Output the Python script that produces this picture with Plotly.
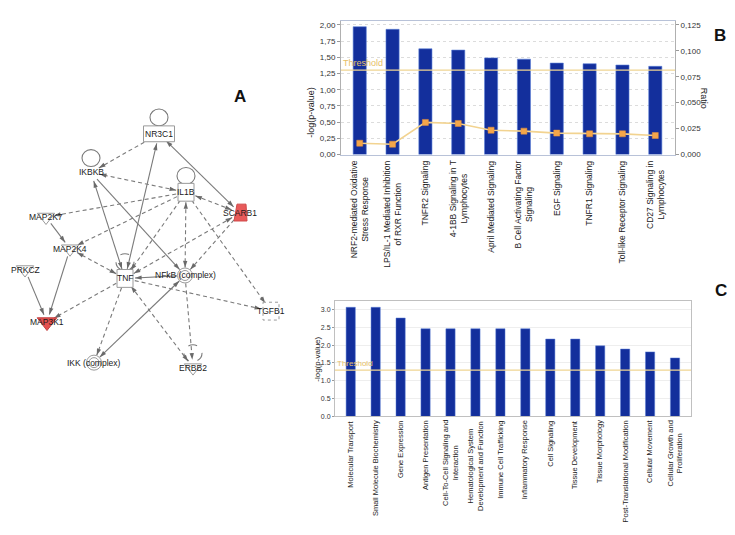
import math
import plotly.graph_objects as go

# ---------------- Panel B data ----------------
b_pathways = [
    "NRF2-mediated Oxidative<br>Stress Response",
    "LPS/IL-1 Mediated Inhibition<br>of RXR Function",
    "TNFR2 Signaling",
    "4-1BB Signaling in T<br>Lymphocytes",
    "April Mediated Signaling",
    "B Cell Activating Factor<br>Signaling",
    "EGF Signaling",
    "TNFR1 Signaling",
    "Toll-like Receptor Signaling",
    "CD27 Signaling in<br>Lymphocytes",
]
b_logp = [1.97, 1.93, 1.63, 1.61, 1.49, 1.47, 1.41, 1.40, 1.38, 1.36]
b_ratio = [0.011, 0.010, 0.031, 0.030, 0.0235, 0.0226, 0.0207, 0.0200, 0.0200, 0.0184]
b_left_tickvals = [0, 0.25, 0.5, 0.75, 1.0, 1.25, 1.5, 1.75, 2.0]
b_left_ticktext = ["0,00", "0,25", "0,50", "0,75", "1,00", "1,25", "1,50", "1,75", "2,00"]
b_right_tickvals = [0, 0.025, 0.05, 0.075, 0.1, 0.125]
b_right_ticktext = ["0,000", "0,025", "0,050", "0,075", "0,100", "0,125"]
threshold = 1.3

# ---------------- Panel C data ----------------
c_functions = [
    "Molecular Transport",
    "Small Molecule Biochemistry",
    "Gene Expression",
    "Antigen Presentation",
    "Cell-To-Cell Signaling and<br>Interaction",
    "Hematological System<br>Development and Function",
    "Immune Cell Trafficking",
    "Inflammatory Response",
    "Cell Signaling",
    "Tissue Development",
    "Tissue Morphology",
    "Post-Translational Modification",
    "Cellular Movement",
    "Cellular Growth and<br>Proliferation",
]
c_logp = [3.06, 3.06, 2.76, 2.46, 2.46, 2.46, 2.46, 2.46, 2.17, 2.17, 1.98, 1.89, 1.81, 1.64]
c_tickvals = [0, 0.5, 1.0, 1.5, 2.0, 2.5, 3.0]
c_ticktext = ["0.0", "0.5", "1.0", "1.5", "2.0", "2.5", "3.0"]

# ---------------- Panel A network data ----------------
node_names = ["NR3C1", "IKBKB", "IL1B", "SCARB1", "MAP2K7", "MAP2K4", "PRKCZ",
              "TNF", "NFkB (complex)", "TGFB1", "MAP3K1", "IKK (complex)", "ERBB2"]
node_x = [151, 83, 178, 232, 38, 62, 17, 117, 177, 263, 39, 86, 185]
node_y = [127, 166, 186, 207, 211, 243, 264, 273, 270, 306, 317, 358, 363]
node_kind = ["rect", "plain", "rect", "receptor", "kinase", "kinase", "kinase",
             "rect", "complex", "rect_dash", "kinase_red", "complex", "kinase"]
node_loop = {"NR3C1": "solid", "IKBKB": "solid", "IL1B": "solid", "TNF": "dash", "ERBB2": "dash"}

edges = [
    ("NR3C1", "IKBKB", "dash", False),
    ("NR3C1", "SCARB1", "solid", True),
    ("TNF", "NR3C1", "solid", True),
    ("IL1B", "IKBKB", "dash", True),
    ("TNF", "IKBKB", "solid", True),
    ("IKBKB", "NFkB (complex)", "solid", False),
    ("IL1B", "MAP2K7", "dash", False),
    ("IL1B", "MAP2K4", "dash", False),
    ("IL1B", "TNF", "dash", False),
    ("IL1B", "NFkB (complex)", "dash", True),
    ("IL1B", "TGFB1", "dash", False),
    ("SCARB1", "IL1B", "dash", True),
    ("SCARB1", "TNF", "dash", True),
    ("SCARB1", "NFkB (complex)", "dash", False),
    ("MAP2K7", "MAP2K4", "solid", False),
    ("MAP2K4", "MAP3K1", "solid", False),
    ("PRKCZ", "MAP3K1", "solid", False),
    ("TNF", "MAP2K4", "dash", True),
    ("TNF", "MAP3K1", "dash", False),
    ("NFkB (complex)", "TNF", "solid", False),
    ("TNF", "TGFB1", "dash", False),
    ("TNF", "IKK (complex)", "dash", False),
    ("TNF", "ERBB2", "dash", True),
    ("NFkB (complex)", "IKK (complex)", "solid", True),
    ("NFkB (complex)", "ERBB2", "dash", False),
]

W, H = 735, 535
FONT = "Liberation Sans, Arial, sans-serif"
BAR = "#132f9c"
GRAY = "#7a7a7a"


def px(x):
    return x / W


def py(y):
    return 1 - y / H


fig = go.Figure()

# ---------- Panel B ----------
fig.add_trace(go.Bar(x=b_pathways, y=b_logp, width=0.4, marker=dict(color=BAR, line=dict(color="#5b7fd6", width=0.6)),
                     xaxis="x", yaxis="y", showlegend=False))
fig.add_trace(go.Scatter(x=b_pathways, y=b_ratio, mode="lines+markers", xaxis="x", yaxis="y2",
                         line=dict(color="#f2d390", width=1.6),
                         marker=dict(symbol="square", size=6, color="#f4a64a", line=dict(color="#e8903a", width=0.5)),
                         showlegend=False))

# ---------- Panel C ----------
fig.add_trace(go.Bar(x=c_functions, y=c_logp, width=0.37, marker=dict(color=BAR, line=dict(color="#5b7fd6", width=0.5)),
                     xaxis="x3", yaxis="y3", showlegend=False))

# ---------- Panel A (network) ----------
pos = {n: (x, y) for n, x, y in zip(node_names, node_x, node_y)}
kind = dict(zip(node_names, node_kind))
clip = {"rect": 10, "plain": 9, "receptor": 9, "kinase": 8, "kinase_red": 8, "complex": 8, "rect_dash": 10}

seg = {"solid": ([], []), "dash": ([], [])}
ax_, ay_, aang = [], [], []
for s, t, style, both in edges:
    x0, y0 = pos[s]
    x1, y1 = pos[t]
    dx, dy = x1 - x0, y1 - y0
    L = math.hypot(dx, dy)
    ux, uy = dx / L, dy / L
    sx, sy = x0 + ux * clip[kind[s]], y0 + uy * clip[kind[s]]
    ex, ey = x1 - ux * clip[kind[t]], y1 - uy * clip[kind[t]]
    seg[style][0].extend([sx, ex, None])
    seg[style][1].extend([sy, ey, None])
    ax_.append(ex); ay_.append(ey); aang.append(math.degrees(math.atan2(ux, -uy)))
    if both:
        ax_.append(sx); ay_.append(sy); aang.append(math.degrees(math.atan2(-ux, uy)))

fig.add_trace(go.Scatter(x=seg["solid"][0], y=seg["solid"][1], mode="lines", xaxis="x4", yaxis="y4",
                         line=dict(color=GRAY, width=1.1), hoverinfo="skip", showlegend=False))
fig.add_trace(go.Scatter(x=seg["dash"][0], y=seg["dash"][1], mode="lines", xaxis="x4", yaxis="y4",
                         line=dict(color=GRAY, width=1.1, dash="4px,3px"), hoverinfo="skip", showlegend=False))
fig.add_trace(go.Scatter(x=ax_, y=ay_, mode="markers", xaxis="x4", yaxis="y4",
                         marker=dict(symbol="arrow", size=7, angle=aang, color="#6a6a6a", line=dict(width=0)),
                         hoverinfo="skip", showlegend=False))

# node markers (kinases: inverted triangles, complexes: double circles)
tri_x = [pos[n][0] for n in node_names if kind[n] == "kinase"]
tri_y = [pos[n][1] for n in node_names if kind[n] == "kinase"]
fig.add_trace(go.Scatter(x=tri_x, y=tri_y, mode="markers", xaxis="x4", yaxis="y4",
                         marker=dict(symbol="triangle-down", size=15, color="white", line=dict(color="#9a9a9a", width=1)),
                         hoverinfo="skip", showlegend=False))
red_x = [pos[n][0] for n in node_names if kind[n] == "kinase_red"]
red_y = [pos[n][1] for n in node_names if kind[n] == "kinase_red"]
fig.add_trace(go.Scatter(x=red_x, y=red_y, mode="markers", xaxis="x4", yaxis="y4",
                         marker=dict(symbol="triangle-down", size=17, color="#e4504f", line=dict(color="#c04040", width=1)),
                         hoverinfo="skip", showlegend=False))
cx_ = [pos[n][0] for n in node_names if kind[n] == "complex"]
cy_ = [pos[n][1] for n in node_names if kind[n] == "complex"]
for sz in (15, 10):
    fig.add_trace(go.Scatter(x=cx_, y=cy_, mode="markers", xaxis="x4", yaxis="y4",
                             marker=dict(symbol="circle", size=sz, color="white", line=dict(color="#9a9a9a", width=1)),
                             hoverinfo="skip", showlegend=False))

shapes = []
annotations = []
for n in node_names:
    x, y = pos[n]
    k = kind[n]
    if k in ("rect", "rect_dash"):
        w = 16 if n != "NR3C1" else 31
        h = 18 if n != "NR3C1" else 16
        shapes.append(dict(type="rect", xref="x4", yref="y4", x0=x - w / 2, x1=x + w / 2, y0=y - h / 2, y1=y + h / 2,
                           fillcolor="white", line=dict(color="#9a9a9a", width=1,
                                                        dash="dot" if k == "rect_dash" else "solid"), layer="above"))
    if k == "receptor":
        shapes.append(dict(type="path", xref="x4", yref="y4",
                           path=f"M{x-6},{y+8} L{x+7},{y+8} L{x+6},{y-9} L{x-3},{y-9} Z",
                           fillcolor="#e85a5a", line=dict(color="#d04848", width=1), layer="above"))
    if n in node_loop:
        top = y - (9 if k in ("rect", "rect_dash") else 7)
        shapes.append(dict(type="circle", xref="x4", yref="y4", x0=x - 9, x1=x + 9, y0=top - 16, y1=top + 1,
                           line=dict(color=GRAY, width=1.1, dash="dash" if node_loop[n] == "dash" else "solid"),
                           fillcolor="rgba(0,0,0,0)", layer="below"))
    annotations.append(dict(x=x, y=y, xref="x4", yref="y4", text=n, showarrow=False,
                            font=dict(family=FONT, size=8.5, color="#1a1a1a")))

# threshold lines
shapes.append(dict(type="line", xref="x domain", yref="y", x0=0, x1=1, y0=threshold, y1=threshold,
                   line=dict(color="#efd592", width=1.2)))
shapes.append(dict(type="line", xref="x3 domain", yref="y3", x0=0, x1=1, y0=threshold, y1=threshold,
                   line=dict(color="#efd592", width=1.2)))
annotations.append(dict(x=0, y=threshold, xref="x domain", yref="y", text="Threshold", showarrow=False,
                        xanchor="left", yanchor="bottom", font=dict(family=FONT, size=9, color="#e6c068")))
annotations.append(dict(x=0, y=threshold, xref="x3 domain", yref="y3", text="Threshold", showarrow=False,
                        xanchor="left", yanchor="bottom", font=dict(family=FONT, size=8, color="#e6c068")))

# category labels (rotated, centred lines)
for c in b_pathways:
    annotations.append(dict(x=c, y=0, xref="x", yref="y domain", yshift=-4, text=c, showarrow=False,
                            textangle=-90, xanchor="center", yanchor="top", align="center",
                            font=dict(family=FONT, size=8.5, color="#222")))
for c in c_functions:
    annotations.append(dict(x=c, y=0, xref="x3", yref="y3 domain", yshift=-2, text=c, showarrow=False,
                            textangle=-90, xanchor="center", yanchor="top", align="center",
                            font=dict(family=FONT, size=7.5, color="#222")))

# axis titles and panel letters
annotations += [
    dict(x=px(303), y=py(78), xref="paper", yref="paper", text="-log(p-value)", textangle=-90, showarrow=False,
         font=dict(family=FONT, size=9, color="#222")),
    dict(x=px(703), y=py(78), xref="paper", yref="paper", text="Ratio", textangle=90, showarrow=False,
         font=dict(family=FONT, size=9, color="#222")),
    dict(x=px(310), y=py(355), xref="paper", yref="paper", text="-log(p-value)", textangle=-90, showarrow=False,
         font=dict(family=FONT, size=8, color="#222")),
    dict(x=px(224), y=py(78), xref="paper", yref="paper", text="<b>A</b>", showarrow=False,
         font=dict(family=FONT, size=17, color="#111")),
    dict(x=px(720), y=py(16), xref="paper", yref="paper", text="<b>B</b>", showarrow=False,
         font=dict(family=FONT, size=17, color="#111")),
    dict(x=px(721), y=py(285), xref="paper", yref="paper", text="<b>C</b>", showarrow=False,
         font=dict(family=FONT, size=17, color="#111")),
]

tickfont = dict(family=FONT, size=8, color="#333")
fig.update_layout(
    width=W, height=H, margin=dict(l=0, r=0, t=0, b=0),
    paper_bgcolor="white", plot_bgcolor="white", showlegend=False,
    xaxis=dict(domain=[px(333), px(667)], range=[-0.57, 9.6], showticklabels=False, ticks="",
               showline=True, linecolor="#b8c2d8", mirror=True, anchor="y", showgrid=False),
    yaxis=dict(domain=[py(148), py(13)], range=[0, 2.06], tickvals=b_left_tickvals, ticktext=b_left_ticktext,
               tickfont=tickfont, ticks="outside", ticklen=3, tickcolor="#999",
               showline=True, linecolor="#b0b0b0", showgrid=True, gridcolor="#dcdcdc", griddash="dot",
               zeroline=False, anchor="x"),
    yaxis2=dict(overlaying="y", side="right", anchor="x", range=[0, 0.12875], tickvals=b_right_tickvals,
                ticktext=b_right_ticktext, tickfont=tickfont, ticks="outside", ticklen=3, tickcolor="#999",
                showline=True, linecolor="#b0b0b0", showgrid=False, zeroline=False),
    xaxis3=dict(domain=[px(327), px(683)], range=[-0.63, 13.64], showticklabels=False, ticks="",
                showline=True, linecolor="#c0c0c0", mirror=True, anchor="y3", showgrid=False),
    yaxis3=dict(domain=[py(412.3), py(296)], range=[0, 3.23], tickvals=c_tickvals, ticktext=c_ticktext,
                tickfont=dict(family=FONT, size=7, color="#333"), ticks="outside", ticklen=2, tickcolor="#999",
                showline=True, linecolor="#c0c0c0", mirror=True, showgrid=True, gridcolor="#eeeeee",
                zeroline=False, anchor="x3"),
    xaxis4=dict(domain=[0, px(290)], range=[0, 290], visible=False, anchor="y4"),
    yaxis4=dict(domain=[py(400), py(60)], range=[400, 60], visible=False, anchor="x4"),
    shapes=shapes, annotations=annotations,
    bargap=0.6,
)

fig.write_html("out.html")
